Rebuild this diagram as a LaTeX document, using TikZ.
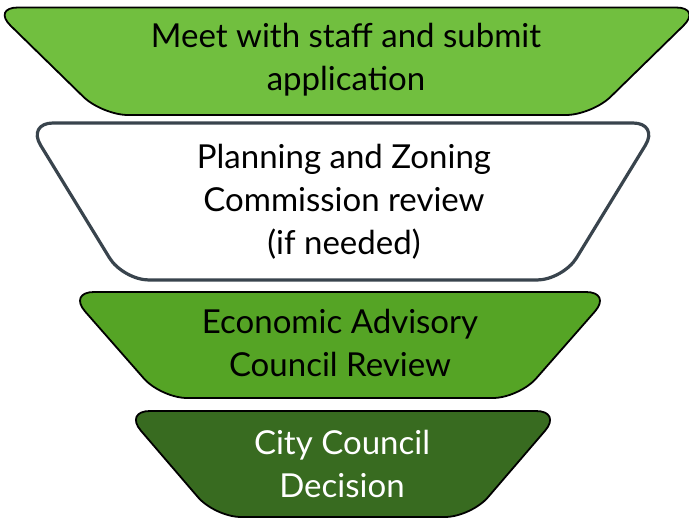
\documentclass[tikz,border=0pt]{standalone}
\usepackage{fontspec}
\setmainfont{Lato}
\definecolor{leafgreen}{HTML}{71BF3F}
\definecolor{grassgreen}{HTML}{55A425}
\definecolor{forestgreen}{HTML}{386B20}
\definecolor{slategray}{HTML}{39444D}
\begin{document}
\begin{tikzpicture}[x=1pt,y=-1pt,line join=round,font=\fontsize{33}{43}\selectfont]
    \tikzset{stage/.style={rounded corners=26pt,line width=1.8pt,draw=black},
             stage text/.style={align=center,inner sep=0pt}}
    \useasboundingbox (0,0) rectangle (689,518);
    \draw[stage,fill=leafgreen] (-8,7.5) -- (702,7.5) -- (592,115) -- (102,115) -- cycle;
    \draw[stage,fill=white,draw=slategray,line width=3.2pt] (27,123) -- (659,123) -- (563,280) -- (123,280) -- cycle;
    \draw[stage,fill=grassgreen] (68,292) -- (612,292) -- (519,398) -- (161,398) -- cycle;
    \draw[stage,fill=forestgreen] (124,411) -- (562,411) -- (471,517) -- (215,517) -- cycle;
    \node[stage text] (meet) at (346,60) {Meet with staff and submit\\application};
    \node[stage text] (zoning) at (344,202) {Planning and Zoning\\Commission review\\(if needed)};
    \node[stage text] (advisory) at (340,343) {Economic Advisory\\Council Review};
    \node[stage text,text=white] (decision) at (342,464) {City Council\\Decision};
\end{tikzpicture}
\end{document}
